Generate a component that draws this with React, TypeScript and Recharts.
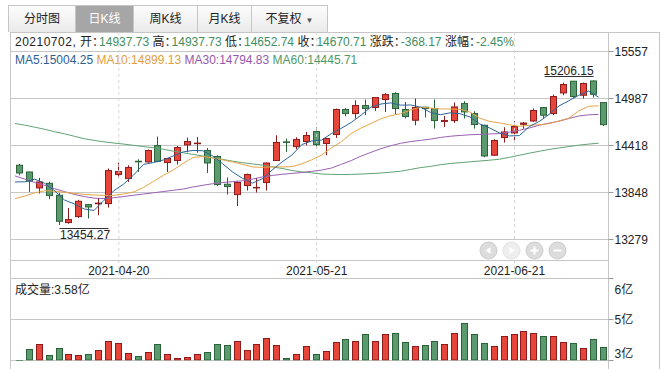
import React from 'react';
import {
  ComposedChart,
  Bar,
  Line,
  XAxis,
  YAxis,
  CartesianGrid,
  ReferenceLine,
  ReferenceDot,
} from 'recharts';

// trading days shown in the window
const dates = [
  '2021-04-06', '2021-04-07', '2021-04-08', '2021-04-09', '2021-04-12', '2021-04-13', '2021-04-14', '2021-04-15', '2021-04-16', '2021-04-19',
  '2021-04-20', '2021-04-21', '2021-04-22', '2021-04-23', '2021-04-26', '2021-04-27', '2021-04-28', '2021-04-29', '2021-04-30',
  '2021-05-06', '2021-05-07', '2021-05-10', '2021-05-11', '2021-05-12', '2021-05-13', '2021-05-14', '2021-05-17', '2021-05-18',
  '2021-05-19', '2021-05-20', '2021-05-21', '2021-05-24', '2021-05-25', '2021-05-26', '2021-05-27', '2021-05-28', '2021-05-31',
  '2021-06-01', '2021-06-02', '2021-06-03', '2021-06-04', '2021-06-07', '2021-06-08', '2021-06-09', '2021-06-10', '2021-06-11',
  '2021-06-15', '2021-06-16', '2021-06-17', '2021-06-18', '2021-06-21', '2021-06-22', '2021-06-23', '2021-06-24', '2021-06-25',
  '2021-06-28', '2021-06-29', '2021-06-30', '2021-07-01', '2021-07-02',
];

const opens = [
  14179, 14097, 13904, 13960, 13815, 13484, 13557, 13702, 13712, 13714,
  14066, 14017, 14227, 14219, 14417, 14211, 14236, 14425, 14440, 14357,
  14284, 13948, 13823, 13933, 13904, 13969, 14236, 14462, 14405, 14466,
  14587, 14442, 14551, 14854, 14805, 14902, 14878, 14975, 15048, 14854,
  14724, 14882, 14866, 14710, 14720, 14926, 14805, 14663, 14300, 14514,
  14570, 14675, 14715, 14878, 14805, 15055, 15197, 15027, 15200, 14937.73,
];
const highs = [
  14194, 14100, 14025, 13978, 13845, 13661, 13760, 13710, 13782, 14139,
  14211, 14179, 14251, 14370, 14526, 14265, 14412, 14514, 14522, 14388,
  14300, 14030, 13985, 14078, 14025, 14211, 14542, 14502, 14518, 14582,
  14636, 14510, 14866, 14870, 14966, 14975, 15003, 15051, 15063, 14946,
  14987, 14885, 14975, 14776, 14939, 14955, 14833, 14670, 14494, 14639,
  14712, 14704, 14866, 14885, 15035, 15181, 15200, 15181, 15206.15, 14937.73,
];
const lows = [
  14057, 13855, 13836, 13767, 13454.27, 13470, 13540, 13533, 13573, 13666,
  14033, 13976, 14097, 14210, 14215, 14097, 14187, 14336, 14332, 14085,
  13928, 13823, 13685, 13872, 13848, 13872, 14230, 14340, 14373, 14421,
  14381, 14300, 14510, 14772, 14745, 14785, 14837, 14825, 14797, 14745,
  14663, 14757, 14623, 14643, 14691, 14745, 14623, 14276, 14290, 14454,
  14469, 14623, 14704, 14752, 14785, 15027, 14995, 14987, 14999, 14652.74,
];
const closes = [
  14085, 13985, 13976, 13811, 13500, 13520, 13742, 13673, 13720, 14114,
  14102, 14151, 14220, 14357, 14225, 14260, 14393, 14466, 14447, 14206,
  13945, 13920, 13969, 14066, 13910, 14206, 14454, 14455, 14490, 14539,
  14429, 14502, 14854, 14805, 14902, 14866, 14999, 15035, 14866, 14769,
  14878, 14866, 14720, 14720, 14885, 14825, 14672, 14291, 14478, 14582,
  14648, 14690, 14842, 14785, 15011, 15157, 15011, 15169, 15038.88, 14670.71,
];
// 成交量, 亿
const volumes = [
  3.08, 3.51, 3.71, 3.27, 3.55, 3.31, 3.27, 3.31, 3.47, 3.83,
  3.75, 3.35, 3.24, 3.39, 3.71, 3.31, 3.16, 3.2, 3.31, 3.39,
  3.71, 3.67, 3.83, 3.47, 3.71, 3.91, 3.67, 3.16, 3.31, 3.63,
  3.31, 3.43, 3.79, 3.87, 3.83, 4.07, 3.83, 4.07, 4.11, 3.79,
  3.63, 3.67, 3.83, 3.71, 4.14, 4.5, 4.07, 3.75, 3.63, 3.99,
  4.07, 4.22, 4.11, 3.99, 3.99, 3.79, 3.75, 3.55, 3.87, 3.58,
];

const ma5 = [
  13976, 13978, 14010, 13960, 13871, 13758, 13710, 13649, 13631, 13754,
  13870, 13952, 14061, 14189, 14211, 14243, 14291, 14340, 14358, 14354,
  14291, 14197, 14097, 14021, 13962, 14014, 14121, 14218, 14303, 14429,
  14473, 14483, 14563, 14626, 14698, 14786, 14885, 14921, 14934, 14907,
  14909, 14883, 14820, 14791, 14814, 14803, 14764, 14679, 14630, 14570,
  14534, 14538, 14648, 14709, 14795, 14897, 14961, 15027, 15077, 15004.25,
];
const ma10 = [
  13775, 13805, 13845, 13870, 13865, 13850, 13838, 13826, 13818, 13813,
  13814, 13831, 13855, 13910, 13982, 14056, 14122, 14201, 14274, 14283,
  14267, 14244, 14219, 14190, 14158, 14153, 14159, 14158, 14162, 14195,
  14244, 14302, 14391, 14464, 14564, 14630, 14684, 14742, 14780, 14803,
  14848, 14884, 14871, 14862, 14860, 14856, 14824, 14749, 14710, 14692,
  14669, 14651, 14663, 14670, 14682, 14716, 14750, 14837, 14893, 14899.13,
];
const ma30 = [
  14050, 14010, 13970, 13935, 13895, 13860, 13825, 13800, 13780, 13775,
  13785, 13800, 13815, 13830, 13845, 13860, 13875, 13890, 13915, 13936,
  13955, 13969, 13980, 13990, 14010, 14037, 14055, 14069, 14080, 14090,
  14105, 14120, 14145, 14190, 14235, 14290, 14335, 14380, 14415, 14445,
  14465, 14480, 14495, 14515, 14530, 14540, 14548, 14553, 14558, 14563,
  14580, 14603, 14630, 14663, 14690, 14712, 14745, 14775, 14790, 14794.83,
];
const ma60 = [
  14684, 14665, 14640, 14615, 14585, 14560, 14530, 14500, 14480, 14462,
  14448, 14435, 14420, 14405, 14390, 14372, 14350, 14330, 14310, 14290,
  14270, 14250, 14228, 14210, 14195, 14180, 14160, 14140, 14115, 14098,
  14087, 14072, 14068, 14066, 14068, 14072, 14078, 14084, 14095, 14106,
  14128, 14150, 14165, 14185, 14200, 14210, 14220, 14230, 14240, 14252,
  14275, 14300, 14325, 14348, 14370, 14388, 14405, 14422, 14435, 14445.71,
];

const dateTicks = ['2021-04-20', '2021-05-21', '2021-06-21'];
const priceTicks = [13279, 13848, 14418, 14987, 15557];
const volumeTicks = [3.05, 4.65, 6.25];
const tabs = ['分时图', '日K线', '周K线', '月K线', '不复权'];

const RED = '#e6453a';
const RED_EDGE = '#8e1b1b';
const GREEN = '#5b9a6f';
const GREEN_EDGE = '#2b6339';
const GRID = '#c6c6c6';
const VALUE_GREEN = '#3f8e5e';
const FONT = '"Liberation Sans", Arial, "Noto Sans CJK SC", sans-serif';

const rows = dates.map((date, i) => ({
  date,
  open: opens[i],
  high: highs[i],
  low: lows[i],
  close: closes[i],
  volume: volumes[i],
  ma5: ma5[i],
  ma10: ma10[i],
  ma30: ma30[i],
  ma60: ma60[i],
}));

const last = rows.length - 1;
const prevClose = closes[last - 1];
const change = closes[last] - prevClose;
const pct = (change / prevClose) * 100;

let minIdx = 0;
let maxIdx = 0;
lows.forEach((v, i) => { if (v < lows[minIdx]) minIdx = i; });
highs.forEach((v, i) => { if (v > highs[maxIdx]) maxIdx = i; });

function Candle(props: any) {
  const { x, y, width, height, payload } = props;
  const top = Math.min(y, y + height);
  const span = Math.abs(height);
  const range = payload.high - payload.low || 1;
  const toY = (v: number) => top + ((payload.high - v) / range) * span;
  const up = payload.close >= payload.open;
  const edge = up ? RED_EDGE : GREEN_EDGE;
  const c = Math.floor(x + width / 2);
  const bodyTop = toY(Math.max(payload.open, payload.close));
  const bodyBot = toY(Math.min(payload.open, payload.close));
  return (
    <g>
      <line x1={c + 0.5} x2={c + 0.5} y1={top} y2={top + span} stroke={edge} />
      <rect
        x={c - 2.5}
        y={bodyTop}
        width={6}
        height={Math.max(bodyBot - bodyTop, 0.5)}
        fill={up ? RED : GREEN}
        stroke={edge}
      />
    </g>
  );
}

function VolBar(props: any) {
  const { x, y, width, height, payload } = props;
  const up = payload.close >= payload.open;
  const c = Math.floor(x + width / 2);
  const top = Math.round(Math.min(y, y + height)) + 0.5;
  const bottom = Math.max(y, y + height) - 0.5;
  return (
    <rect
      x={c - 2.5}
      y={top}
      width={6}
      height={Math.max(bottom - top, 0.5)}
      fill={up ? RED : GREEN}
      stroke={up ? RED_EDGE : GREEN_EDGE}
    />
  );
}

function VolumeTick(props: any) {
  const { x, y, payload, index } = props;
  const shift = [-7, 0, 11][index] ?? 0;
  return (
    <text x={x} y={y + shift} dy="0.355em" fontSize={12} fill="#222" textAnchor="start" fontFamily={FONT}>
      {`${Math.round(payload.value)}亿`}
    </text>
  );
}

function LowMark(props: any) {
  const { cx, cy } = props;
  return (
    <g>
      <line x1={cx} x2={cx + 49} y1={Math.round(cy) + 3.5} y2={Math.round(cy) + 3.5} stroke="#333" />
      <text x={cx + 0.5} y={cy + 14} fontSize={12} fill="#222" fontFamily={FONT}>
        {lows[minIdx].toFixed(2)}
      </text>
    </g>
  );
}

function HighMark(props: any) {
  const { cx, cy } = props;
  return (
    <g>
      <line x1={cx - 49} x2={cx} y1={Math.round(cy) - 3.5} y2={Math.round(cy) - 3.5} stroke="#333" />
      <text x={cx} y={cy - 5.5} fontSize={12} fill="#222" textAnchor="end" fontFamily={FONT}>
        {highs[maxIdx].toFixed(2)}
      </text>
    </g>
  );
}

const vline = (left: number, top: number, height: number) => (
  <div style={{ position: 'absolute', left, top, width: 1, height, background: GRID }} />
);

export default function App() {
  const info: [string, string][] = [
    ['开', opens[last].toFixed(2)],
    ['高', highs[last].toFixed(2)],
    ['低', lows[last].toFixed(2)],
    ['收', closes[last].toFixed(2)],
    ['涨跌', change.toFixed(2)],
    ['涨幅', `${pct.toFixed(2)}%`],
  ];
  const maInfo: [string, number, string][] = [
    ['MA5', ma5[last], '#2c5f92'],
    ['MA10', ma10[last], '#e59d3c'],
    ['MA30', ma30[last], '#9658ad'],
    ['MA60', ma60[last], '#4f9a66'],
  ];
  const tabWidths = [67, 58, 64, 54, 76];

  return (
    <div style={{ position: 'absolute', left: 0, top: 0, width: 667, height: 369, background: '#fff', fontFamily: FONT, fontSize: 12, color: '#222', overflow: 'hidden' }}>
      {/* tab bar */}
      <div style={{ position: 'absolute', left: 8, top: 5, height: 27, display: 'flex', borderTop: `1px solid ${GRID}`, borderLeft: `1px solid ${GRID}`, boxSizing: 'border-box' }}>
        {tabs.map((t, i) => (
          <div
            key={t}
            style={{
              width: tabWidths[i],
              height: 26,
              boxSizing: 'border-box',
              borderRight: `1px solid ${GRID}`,
              background: i === 1 ? '#a6a6a6' : 'linear-gradient(#fcfcfc, #ebebeb)',
              color: i === 1 ? '#fff' : '#222',
              fontSize: 12,
              lineHeight: '26px',
              textAlign: 'center',
            }}
          >
            {t}
            {i === 4 && <span style={{ fontSize: 8, marginLeft: 4, color: '#555' }}>▼</span>}
          </div>
        ))}
      </div>

      {/* frame */}
      <div style={{ position: 'absolute', left: 10, top: 32, width: 650, height: 1, background: GRID }} />
      {vline(10, 32, 337)}
      {vline(608, 32, 337)}
      {vline(659, 32, 337)}

      {/* quote line */}
      <div style={{ position: 'absolute', left: 15, top: 35, whiteSpace: 'nowrap', lineHeight: '14px' }}>
        <span style={{ letterSpacing: 0.5 }}>{dates[last].replace(/-/g, '')}, </span>
        {info.map(([k, v]) => (
          <span key={k}>
            {k}
            <span style={{ letterSpacing: -5 }}>：</span>
            <span style={{ color: VALUE_GREEN }}>{v}</span>{' '}
          </span>
        ))}
      </div>
      <div style={{ position: 'absolute', left: 15, top: 53, whiteSpace: 'nowrap', lineHeight: '14px' }}>
        {maInfo.map(([k, v, c]) => (
          <span key={k} style={{ color: c }}>{`${k}:${v.toFixed(2)} `}</span>
        ))}
      </div>

      <div style={{ position: 'absolute', left: 0, top: 0 }}>
        <ComposedChart width={667} height={279} data={rows} margin={{ top: 51.5, right: 7.5, bottom: 0.5, left: 10 }}>
          <CartesianGrid vertical={false} stroke={GRID} />
          <XAxis
            dataKey="date"
            ticks={dateTicks}
            interval={0}
            padding={{ left: 5, right: 0 }}
            tickLine={false}
            axisLine={{ stroke: GRID }}
            tickSize={0}
            tickMargin={6}
            height={18}
            tick={{ fontSize: 12, fill: '#222', fontFamily: FONT }}
          />
          <XAxis xAxisId="ma" dataKey="date" hide padding={{ left: 0, right: 5 }} />
          <YAxis
            orientation="right"
            domain={[13024.5, 15557]}
            ticks={priceTicks}
            interval={0}
            width={51}
            axisLine={false}
            tickSize={5}
            tickMargin={1}
            tickLine={{ stroke: '#999' }}
            tick={{ fontSize: 12, fill: '#222', fontFamily: FONT }}
            allowDataOverflow
          />
          {dateTicks.map((d) => (
            <ReferenceLine
              key={d}
              segment={[{ x: d, y: 15793 }, { x: d, y: 12812 }]}
              ifOverflow="visible"
              stroke="#d6d6d6"
              strokeDasharray="3 3"
            />
          ))}
          <Line xAxisId="ma" dataKey="ma60" stroke="#5fa275" strokeWidth={1} dot={false} isAnimationActive={false} />
          <Line xAxisId="ma" dataKey="ma30" stroke="#9a60b2" strokeWidth={1} dot={false} isAnimationActive={false} />
          <Line xAxisId="ma" dataKey="ma10" stroke="#e7a447" strokeWidth={1} dot={false} isAnimationActive={false} />
          <Line xAxisId="ma" dataKey="ma5" stroke="#2c6598" strokeWidth={1} dot={false} isAnimationActive={false} />
          <Bar dataKey={(d: any) => [d.low, d.high]} barSize={7} shape={(p: any) => <Candle {...p} />} isAnimationActive={false} />
          <ReferenceDot x={dates[minIdx]} y={lows[minIdx]} r={0} shape={(p: any) => <LowMark {...p} />} />
          <ReferenceDot x={dates[maxIdx]} y={highs[maxIdx]} r={0} shape={(p: any) => <HighMark {...p} />} />
        </ComposedChart>
      </div>

      <div style={{ position: 'absolute', left: 0, top: 270 }}>
        <ComposedChart width={667} height={100} data={rows} margin={{ top: 8.5, right: 7.5, bottom: 9.5, left: 10 }}>
          <CartesianGrid vertical={false} stroke={GRID} />
          <XAxis dataKey="date" hide padding={{ left: 5, right: 0 }} />
          <YAxis
            orientation="right"
            domain={[3.05, 6.25]}
            ticks={volumeTicks}
            interval={0}
            width={51}
            axisLine={false}
            tickSize={5}
            tickMargin={1}
            tickLine={{ stroke: '#999' }}
            tick={(p: any) => <VolumeTick {...p} />}
            allowDataOverflow
          />
          <Bar dataKey="volume" barSize={7} shape={(p: any) => <VolBar {...p} />} isAnimationActive={false} />
        </ComposedChart>
      </div>

      <div style={{ position: 'absolute', left: 15, top: 283, lineHeight: '14px' }}>
        成交量:{volumes[last].toFixed(2)}亿
      </div>

      {/* navigation buttons */}
      <svg width={667} height={369} style={{ position: 'absolute', left: 0, top: 0, pointerEvents: 'none' }}>
        {[488.5, 511.5, 534.5, 557.5].map((cx, i) => (
          <g key={cx}>
            <circle cx={cx} cy={250.5} r={8.5} fill={i === 1 ? '#eeeeee' : '#dcdcdc'} stroke={i === 1 ? '#e2e2e2' : '#cbcbcb'} />
            {i === 0 && <path d={`M${cx - 3} 250.5 L${cx + 2} 247 L${cx + 2} 254 Z`} fill="#fff" />}
            {i === 1 && <path d={`M${cx + 3} 250.5 L${cx - 2} 247 L${cx - 2} 254 Z`} fill="#fff" />}
            {i === 2 && <path d={`M${cx - 4} 250.5 H${cx + 4} M${cx} 246.5 V254.5`} stroke="#fff" strokeWidth={2} />}
            {i === 3 && <path d={`M${cx - 4} 250.5 H${cx + 4}`} stroke="#fff" strokeWidth={2} />}
          </g>
        ))}
      </svg>
    </div>
  );
}
